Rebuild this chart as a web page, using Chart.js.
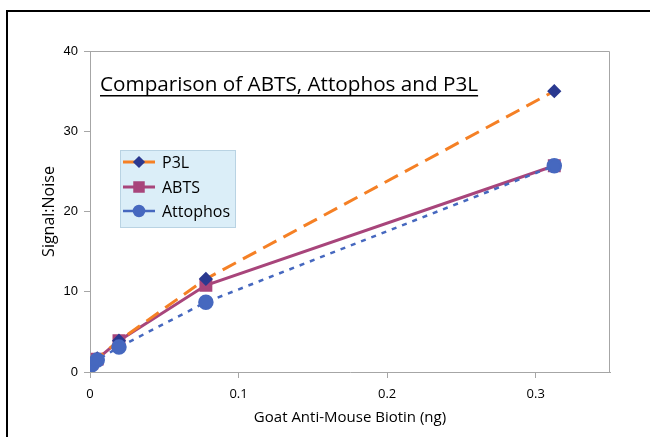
<!DOCTYPE html>
<html>
<head>
<meta charset="utf-8">
<script src="https://cdn.jsdelivr.net/npm/chart.js@4.4.0/dist/chart.umd.min.js"></script>
<style>
	html, body { margin: 0; padding: 0; background: #fff; }
	#wrap { position: relative; width: 650px; height: 437px; }
	#frame { position: absolute; left: 6px; top: 10px; right: 0; bottom: 0; border-top: 2px solid #000; border-left: 2px solid #000; pointer-events: none; }
</style>
</head>
<body>
<div id="wrap">
	<canvas id="snr-chart" width="650" height="437"></canvas>
	<div id="frame"></div>
</div>
<script>
const amounts = [0.00122, 0.00488, 0.0195, 0.078, 0.3125];
const p3l = [1.1, 1.7, 3.9, 11.6, 35.0];
const abts = [1.1, 1.6, 3.9, 10.8, 25.7];
const attophos = [0.9, 1.5, 3.1, 8.7, 25.7];
const xTicks = [0, 0.1, 0.2, 0.3];
const yTicks = [0, 10, 20, 30, 40];

const chartTitle = 'Comparison of ABTS, Attophos and P3L';
const sansFont = '"Open Sans", "Noto Sans", sans-serif';

function toPoints(values) {
	return amounts.map((x, i) => ({ x: x, y: values[i] }));
}

// plot box, underlined title and the boxed legend inside the plot
const overlay = {
	id: 'overlay',
	afterDatasetsDraw(chart) {
		const ctx = chart.ctx, a = chart.chartArea;
		ctx.save();
		ctx.strokeStyle = '#a6a6a6';
		ctx.lineWidth = 1;
		ctx.beginPath();
		ctx.moveTo(a.left + 0.5, a.top + 0.5);
		ctx.lineTo(a.right - 0.5, a.top + 0.5);
		ctx.lineTo(a.right - 0.5, a.bottom);
		ctx.stroke();

		// title is stretched to the width it has in the original (about 378px)
		ctx.fillStyle = '#000';
		ctx.font = '20px ' + sansFont;
		let tw = ctx.measureText(chartTitle).width;
		const size = 20 * 378 / tw;
		ctx.font = size.toFixed(1) + 'px ' + sansFont;
		tw = ctx.measureText(chartTitle).width;
		ctx.textBaseline = 'alphabetic';
		ctx.textAlign = 'left';
		const tx = a.left + 10, ty = 91;
		ctx.fillText(chartTitle, tx, ty);
		ctx.fillRect(tx, ty + 4, tw, 1.5);

		const lx = 120, ly = 150, lw = 116, lh = 78;
		ctx.fillStyle = '#dbeef8';
		ctx.strokeStyle = '#b9d3e3';
		ctx.fillRect(lx, ly, lw, lh);
		ctx.strokeRect(lx + 0.5, ly + 0.5, lw - 1, lh - 1);

		const rows = [162, 187, 211];
		const legendRadius = [4, 6, 5];
		chart.data.datasets.forEach((ds, i) => {
			const y = rows[i];
			ctx.strokeStyle = ds.borderColor;
			ctx.lineWidth = ds.borderWidth;
			ctx.setLineDash([]);
			ctx.beginPath();
			ctx.moveTo(lx + 3, y);
			ctx.lineTo(lx + 35, y);
			ctx.stroke();
			ctx.fillStyle = ds.pointBackgroundColor;
			ctx.strokeStyle = ds.pointBorderColor;
			Chart.helpers.drawPoint(ctx, {
				pointStyle: ds.pointStyle,
				radius: legendRadius[i],
				rotation: 0,
				borderWidth: 1
			}, lx + 19, y);
			ctx.fillStyle = '#000';
			ctx.font = '16px ' + sansFont;
			ctx.textBaseline = 'middle';
			ctx.fillText(ds.label, lx + 42, y + 1);
		});
		ctx.restore();
	}
};

const snrChart = new Chart(document.getElementById('snr-chart'), {
	type: 'line',
	data: {
		datasets: [{
			label: 'P3L',
			data: toPoints(p3l),
			borderColor: '#f58025',
			borderWidth: 3,
			borderDash: [15, 8],
			pointStyle: 'rectRot',
			pointRadius: 5,
			pointBackgroundColor: '#2a3990',
			pointBorderColor: '#2a3990',
			order: 1
		}, {
			label: 'ABTS',
			data: toPoints(abts),
			borderColor: '#a8457b',
			borderWidth: 3,
			pointStyle: 'rect',
			pointRadius: 7,
			pointBackgroundColor: '#a8457b',
			pointBorderColor: '#a8457b',
			order: 2
		}, {
			label: 'Attophos',
			data: toPoints(attophos),
			borderColor: '#4668bf',
			borderWidth: 2.5,
			borderDash: [5, 6],
			pointStyle: 'circle',
			pointRadius: 6.5,
			pointBackgroundColor: '#4668bf',
			pointBorderColor: '#4668bf',
			order: 0
		}]
	},
	options: {
		responsive: false,
		animation: false,
		layout: { padding: { left: 0, right: 40, top: 51, bottom: 0 } },
		plugins: {
			legend: { display: false },
			tooltip: { enabled: false }
		},
		scales: {
			x: {
				type: 'linear',
				min: 0,
				max: 0.35,
				afterBuildTicks: (scale) => { scale.ticks = xTicks.map(v => ({ value: v })); },
				afterFit: (scale) => { scale.height = 65; },
				grid: { drawOnChartArea: false, color: '#a6a6a6', tickLength: 6 },
				border: { color: '#a6a6a6' },
				ticks: { color: '#000', font: { family: sansFont, size: 13 }, padding: 8, maxRotation: 0 },
				title: { display: true, text: 'Goat Anti-Mouse Biotin (ng)', color: '#000', font: { family: sansFont, size: 15 }, padding: { top: 2, bottom: 10 } }
			},
			y: {
				min: 0,
				max: 40,
				afterBuildTicks: (scale) => { scale.ticks = yTicks.map(v => ({ value: v })); },
				afterFit: (scale) => { scale.width = 90; },
				grid: { drawOnChartArea: false, color: '#a6a6a6', tickLength: 6 },
				border: { color: '#a6a6a6' },
				ticks: { color: '#000', font: { family: '"Liberation Sans", Arial, sans-serif', size: 13 }, padding: 6 },
				title: { display: true, text: 'Signal:Noise', color: '#000', font: { family: sansFont, size: 16 }, padding: { top: 40, bottom: 8 } }
			}
		}
	},
	plugins: [overlay]
});
</script>
</body>
</html>
